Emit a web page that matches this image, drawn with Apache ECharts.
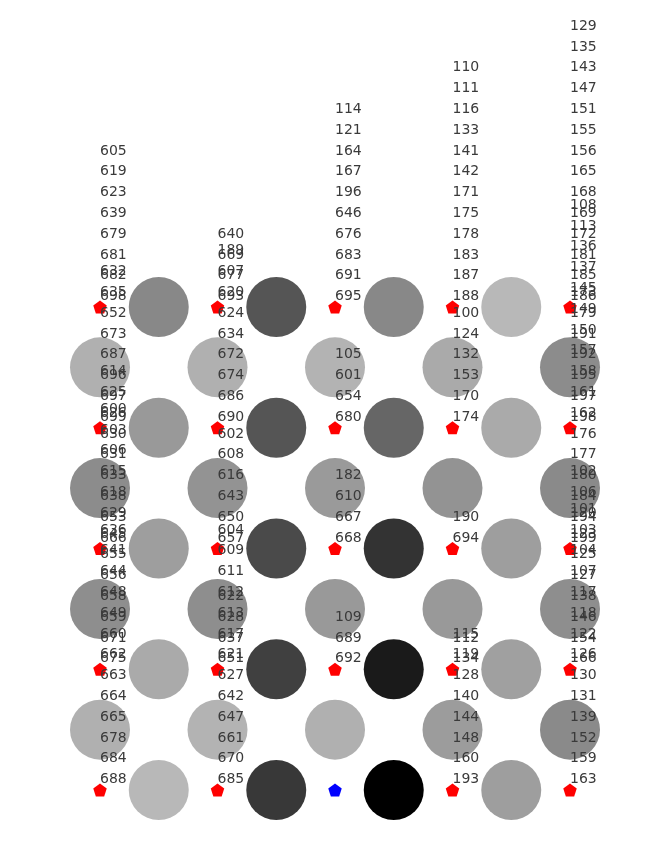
<!DOCTYPE html>
<html><head><meta charset="utf-8">
<script src="https://cdn.jsdelivr.net/npm/echarts@6/dist/echarts.min.js"></script>
<style>html,body{margin:0;padding:0;background:#fff}#c{width:654px;height:854px}</style>
</head><body><div id="c"></div>
<script>
// U-matrix cell grey levels (0 = black, 255 = white) on the 9x9 lattice; null = no cell
const cellGray = [
  [null,136,null, 85,null,136,null,184,null],
  [176,null,176,null,179,null,170,null,140],
  [null,153,null, 85,null,102,null,170,null],
  [140,null,147,null,154,null,147,null,138],
  [null,158,null, 74,null, 51,null,158,null],
  [142,null,142,null,153,null,153,null,142],
  [null,170,null, 64,null, 26,null,160,null],
  [176,null,179,null,176,null,156,null,138],
  [null,184,null, 56,null,  0,null,158,null]
];
// sample ids mapped to each SOM node: one array per node column, rows top to bottom,
// ids listed from the top of the stack down
const col0Labels = [
  [605,619,623,639,679,681,682,698],
  [632,635,652,673,687,696,697,699],
  [614,625,626,630,631,633,638,653,666],
  [600,603,606,615,618,629,645,655,656,658,659,671,675],
  [636,641,644,648,649,660,662,663,664,665,678,684,688]
];
const col1Labels = [
  [640,669,677,693],
  [189,607,620,624,634,672,674,686,690],
  [602,608,616,643,650,657],
  [622,628,637,651],
  [604,609,611,612,613,617,621,627,642,647,661,670,685]
];
const col2Labels = [
  [114,121,164,167,196,646,676,683,691,695],
  [105,601,654,680],
  [182,610,667,668],
  [109,689,692],
  []
];
const col3Labels = [
  [110,111,116,133,141,142,171,175,178,183,187,188],
  [100,124,132,153,170,174],
  [190,694],
  [112,134],
  [115,119,128,140,144,148,160,193]
];
const col4Labels = [
  [129,135,143,147,151,155,156,165,168,169,172,181,185,186],
  [173,179,191,192,195,197,198],
  [108,113,136,137,145,149,150,157,158,161,162,176,177,180,184,194,199],
  [102,106,120,123,125,127,138,146,154,166],
  [101,103,104,107,117,118,122,126,130,131,139,152,159,163]
];
const nodeLabels = [col0Labels, col1Labels, col2Labels, col3Labels, col4Labels];
// winning node of the queried sample (blue marker): [column, row]
const highlightNode = [2, 4];
// label stacking, in y-axis units (one lattice row = 60.375 px)
const LABEL_BASE = 10.5 / 60.375;
const LABEL_STEP = 20.8 / 60.375;

const circleData = [];
cellGray.forEach((row, j) => row.forEach((g, i) => {
  if (g === null) return;
  circleData.push({ value: [i, j], itemStyle: { color: `rgb(${g},${g},${g})` } });
}));

const markerData = [];
const labelData = [];
nodeLabels.forEach((col, c) => col.forEach((ids, r) => {
  const isHi = c === highlightNode[0] && r === highlightNode[1];
  markerData.push({ value: [2 * c, 2 * r], itemStyle: { color: isHi ? '#0000ff' : '#ff0000' } });
  const n = ids.length;
  ids.forEach((id, idx) => {
    const k = n - 1 - idx; // stack position counted upward from the node
    labelData.push({ value: [2 * c, 2 * r - LABEL_BASE - k * LABEL_STEP, id] });
  });
}));

const pentagon = 'path://M0,-1 L0.9511,-0.309 L0.5878,0.809 L-0.5878,0.809 L-0.9511,-0.309 Z';

const chart = echarts.init(document.getElementById('c'), null, { renderer: 'canvas' });
chart.setOption({
  animation: false,
  backgroundColor: '#ffffff',
  grid: { left: 70.625, right: 54.625, top: 276.8, bottom: 33.8 },
  xAxis: { type: 'value', min: -0.5, max: 8.5, show: false },
  yAxis: { type: 'value', min: -0.5, max: 8.5, inverse: true, show: false },
  series: [
    {
      type: 'scatter', data: circleData, symbol: 'circle', symbolSize: 60,
      itemStyle: { opacity: 1 }, silent: true, z: 1, clip: false
    },
    {
      type: 'scatter', data: markerData, symbol: pentagon, symbolSize: [13.5, 12.8],
      itemStyle: { opacity: 1 }, silent: true, z: 2, clip: false
    },
    {
      type: 'scatter', data: labelData, symbolSize: 0, silent: true, z: 3, clip: false,
      itemStyle: { opacity: 1 },
      label: {
        show: true, position: 'right', distance: 0,
        formatter: p => String(p.value[2]),
        fontFamily: 'DejaVu Sans', fontSize: 14, color: '#3a3a3a'
      },
      labelLayout: { hideOverlap: false }
    }
  ]
});
</script>
</body></html>
